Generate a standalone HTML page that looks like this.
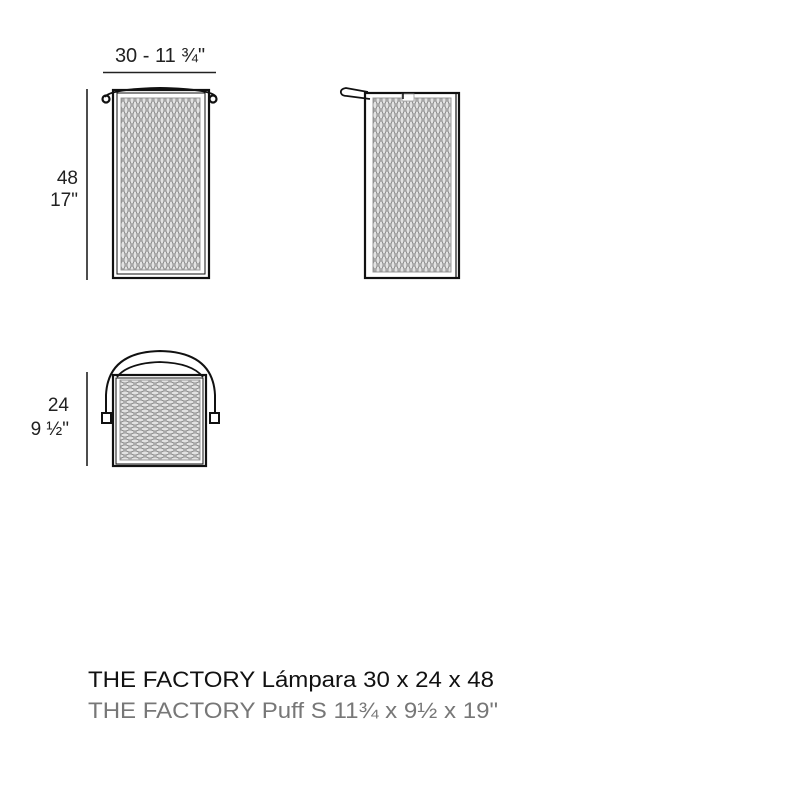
<!DOCTYPE html>
<html><head><meta charset="utf-8"><style>
html,body{margin:0;padding:0;background:#fff;}
svg{display:block;}
text{font-family:"Liberation Sans",sans-serif;}
</style></head><body>
<svg width="801" height="801" viewBox="0 0 801 801" xmlns="http://www.w3.org/2000/svg">
<defs>
<pattern id="pv" width="6" height="10" patternUnits="userSpaceOnUse">
<rect width="6" height="10" fill="#e2e2e2"/>
<ellipse cx="3" cy="5" rx="2" ry="4.2" fill="none" stroke="#8a8a8a" stroke-width="0.8"/>
<ellipse cx="0" cy="0" rx="2" ry="4.2" fill="none" stroke="#8a8a8a" stroke-width="0.8"/>
<ellipse cx="6" cy="0" rx="2" ry="4.2" fill="none" stroke="#8a8a8a" stroke-width="0.8"/>
<ellipse cx="0" cy="10" rx="2" ry="4.2" fill="none" stroke="#8a8a8a" stroke-width="0.8"/>
<ellipse cx="6" cy="10" rx="2" ry="4.2" fill="none" stroke="#8a8a8a" stroke-width="0.8"/>
</pattern>
<pattern id="ph" width="10" height="6" patternUnits="userSpaceOnUse">
<rect width="10" height="6" fill="#e2e2e2"/>
<ellipse cx="5" cy="3" rx="4.2" ry="2" fill="none" stroke="#8a8a8a" stroke-width="0.8"/>
<ellipse cx="0" cy="0" rx="4.2" ry="2" fill="none" stroke="#8a8a8a" stroke-width="0.8"/>
<ellipse cx="10" cy="0" rx="4.2" ry="2" fill="none" stroke="#8a8a8a" stroke-width="0.8"/>
<ellipse cx="0" cy="6" rx="4.2" ry="2" fill="none" stroke="#8a8a8a" stroke-width="0.8"/>
<ellipse cx="10" cy="6" rx="4.2" ry="2" fill="none" stroke="#8a8a8a" stroke-width="0.8"/>
</pattern>
</defs>

<text x="160" y="62" font-size="20" text-anchor="middle" fill="#222">30 - 11 ¾"</text>
<line x1="103" y1="72.5" x2="216" y2="72.5" stroke="#222" stroke-width="1.6"/>
<line x1="87" y1="89" x2="87" y2="280" stroke="#222" stroke-width="1.6"/>
<text x="78" y="184" font-size="19" text-anchor="end" fill="#222">48</text>
<text x="78" y="206" font-size="19" text-anchor="end" fill="#222">17"</text>
<line x1="87" y1="372" x2="87" y2="466" stroke="#222" stroke-width="1.6"/>
<text x="69" y="411" font-size="19" text-anchor="end" fill="#222">24</text>
<text x="69" y="435" font-size="19" text-anchor="end" fill="#222">9 ½"</text>

<g fill="none" stroke="#111">
<rect x="121" y="98" width="79" height="172" fill="url(#pv)" stroke="#999" stroke-width="1"/>
<rect x="113" y="90" width="96" height="188" stroke-width="2.2"/>
<rect x="117" y="93" width="88" height="181" stroke-width="1"/>
<path d="M105 97 Q110 89 160 88 Q212 89 216 97" stroke-width="2"/>
<circle cx="106" cy="99" r="3.5" stroke-width="2.2"/>
<circle cx="213" cy="99" r="3.5" stroke-width="2.2"/>
</g>

<g fill="none" stroke="#111">
<rect x="373" y="98" width="78" height="174" fill="url(#pv)" stroke="#999" stroke-width="1"/>
<rect x="365" y="93" width="94" height="185" stroke-width="2.2"/>
<line x1="456" y1="93" x2="456" y2="278" stroke-width="1.2"/>
<path d="M368 92 L346 88 Q340 89 341 93 Q342 96 347 96 L370 99" stroke-width="1.8"/>
<rect x="402" y="94" width="12" height="7" fill="#fff" stroke="#999" stroke-width="0.8"/>
<line x1="403" y1="93" x2="403" y2="99" stroke-width="1.5"/>
</g>

<g fill="none" stroke="#111">
<rect x="120" y="380" width="80" height="80" fill="url(#ph)" stroke="#999" stroke-width="1"/>
<rect x="113" y="375" width="93" height="91" stroke-width="2.2"/>
<rect x="116" y="378" width="87" height="86" stroke-width="1"/>
<path d="M106 413 L106 395 Q108 352 160 351 Q213 352 215 395 L215 413" stroke-width="2"/>
<path d="M117 377 Q128 363 160 362 Q192 363 203 377" stroke-width="1.8"/>
<rect x="102" y="413" width="9" height="10" stroke-width="2"/>
<rect x="210" y="413" width="9" height="10" stroke-width="2"/>
</g>

<text x="88" y="687" font-size="22" fill="#111" textLength="406" lengthAdjust="spacingAndGlyphs">THE FACTORY Lámpara 30 x 24 x 48</text>
<text x="88" y="718" font-size="22" fill="#777" textLength="410" lengthAdjust="spacingAndGlyphs">THE FACTORY Puff S 11¾ x 9½ x 19"</text>
</svg>
</body></html>
